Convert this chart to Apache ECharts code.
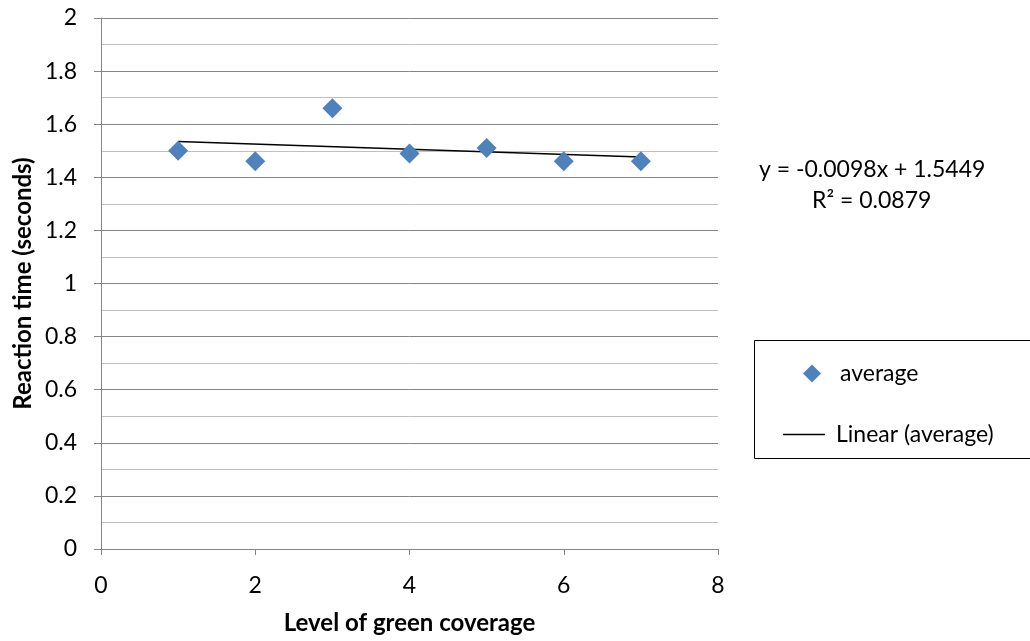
<!DOCTYPE html>
<html>
<head>
<meta charset="utf-8">
<script src="https://cdn.jsdelivr.net/npm/echarts@6/dist/echarts.min.js"></script>
<style>
  html, body { margin: 0; padding: 0; background: #fff; }
  #chart { width: 1030px; height: 641px; }
</style>
</head>
<body>
<div id="chart"></div>
<script>
// Level of green coverage vs. average reaction time
const levels = [1, 2, 3, 4, 5, 6, 7];
const averages = [1.50, 1.46, 1.66, 1.49, 1.51, 1.46, 1.46];

// Linear trendline coefficients
const slope = -0.0098;
const intercept = 1.5449;
const rSquared = 0.0879;

const FONT = 'Lato, "Liberation Sans", sans-serif';

const points = levels.map((x, i) => [x, averages[i]]);
const xFirst = levels[0], xLast = levels[levels.length - 1];
const trend = [
  [xFirst, intercept + slope * xFirst],
  [xLast, intercept + slope * xLast]
];

const fmtSigned = v => (v < 0 ? '-' : '') + Math.abs(v).toFixed(4);

const chart = echarts.init(document.getElementById('chart'));
chart.setOption({
  animation: false,
  backgroundColor: '#ffffff',
  grid: { left: 101, top: 18, width: 617, height: 531, containLabel: false },
  xAxis: {
    type: 'value',
    min: 0, max: 8, interval: 2,
    name: 'Level of green coverage',
    nameLocation: 'middle',
    nameGap: 62,
    nameMoveOverlap: false,
    nameTextStyle: { fontFamily: FONT, fontSize: 24, fontWeight: 'bold', color: '#000' },
    axisLine: { show: true, lineStyle: { color: '#868686', width: 1 } },
    axisTick: { show: true, length: 6, lineStyle: { color: '#868686' } },
    axisLabel: { fontFamily: FONT, fontSize: 23, color: '#000', margin: 25 },
    splitLine: { show: false }
  },
  yAxis: {
    type: 'value',
    min: 0, max: 2, interval: 0.2,
    name: 'Reaction time (seconds)',
    nameLocation: 'middle',
    nameGap: 66,
    nameMoveOverlap: false,
    nameRotate: 90,
    nameTextStyle: { fontFamily: FONT, fontSize: 24, fontWeight: 'bold', color: '#000' },
    axisLine: { show: true, onZero: false, lineStyle: { color: '#868686', width: 1 } },
    axisTick: { show: true, length: 7, lineStyle: { color: '#868686' } },
    axisLabel: {
      fontFamily: FONT, fontSize: 23, color: '#000', margin: 24,
      formatter: v => String(Math.round(v * 10) / 10)
    },
    splitLine: { show: true, lineStyle: { color: '#868686', width: 1 } },
    minorTick: { show: false, splitNumber: 2 },
    minorSplitLine: { show: true, lineStyle: { color: '#bfbfbf', width: 1 } }
  },
  legend: [
    {
      data: ['average'],
      left: 798, top: 357,
      itemWidth: 18, itemHeight: 18,
      itemGap: 0,
      textStyle: { fontFamily: FONT, fontSize: 23, color: '#000', padding: [0, 0, 0, 14] }
    },
    {
      data: [{ name: 'Linear (average)', icon: 'path://M0,0 L40,0 L40,1.5 L0,1.5 Z' }],
      left: 778, top: 418,
      itemWidth: 42, itemHeight: 2,
      itemGap: 0,
      itemStyle: { color: '#000' },
      textStyle: { fontFamily: FONT, fontSize: 23, color: '#000', padding: [0, 0, 0, 6] }
    }
  ],
  graphic: [
    {
      type: 'rect',
      shape: { x: 754.5, y: 340.5, width: 290, height: 118 },
      style: { fill: 'none', stroke: '#000', lineWidth: 1 },
      z: 0
    },
    {
      type: 'text',
      left: 759, top: 158,
      style: {
        text: 'y = ' + fmtSigned(slope) + 'x + ' + intercept.toFixed(4),
        font: '23px ' + FONT, fill: '#000'
      }
    },
    {
      type: 'text',
      left: 812, top: 189,
      style: {
        text: 'R² = ' + rSquared.toFixed(4),
        font: '23px ' + FONT, fill: '#000'
      }
    }
  ],
  series: [
    {
      name: 'average',
      type: 'scatter',
      data: points,
      symbol: 'diamond',
      symbolSize: 20,
      itemStyle: { color: '#4f81bd', opacity: 1 },
      z: 3
    },
    {
      name: 'Linear (average)',
      type: 'line',
      data: trend,
      showSymbol: false,
      symbol: 'none',
      lineStyle: { color: '#000', width: 1.5 },
      itemStyle: { color: '#000' },
      z: 2
    }
  ]
});
</script>
</body>
</html>
